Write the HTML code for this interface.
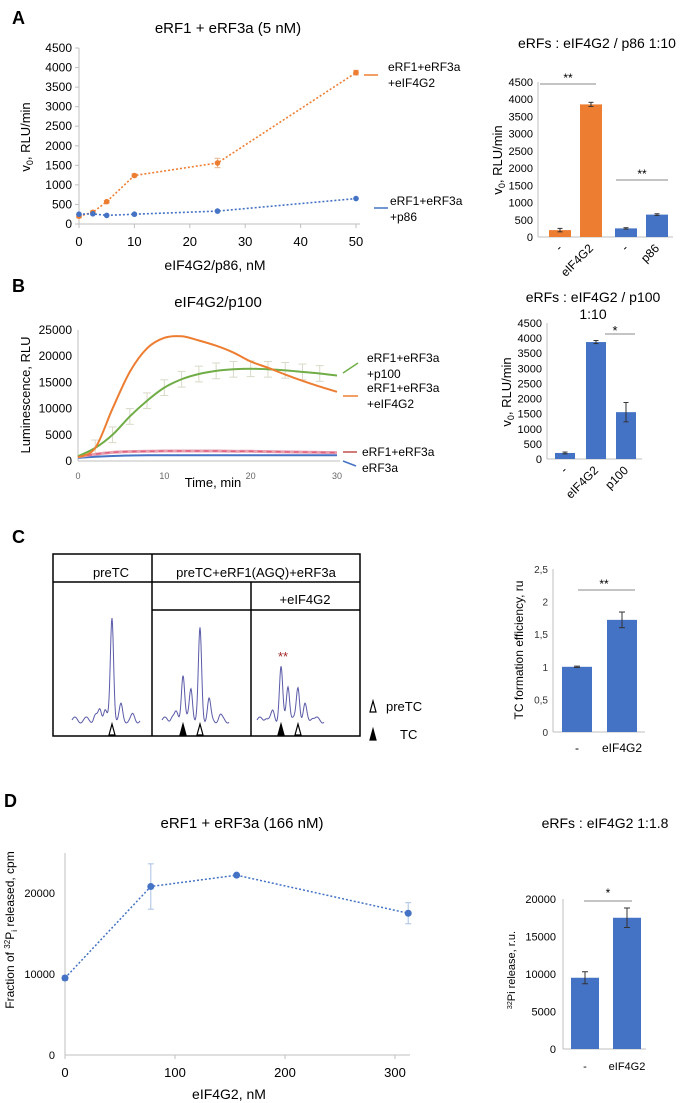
<!DOCTYPE html>
<html><head><meta charset="utf-8"><style>
html,body{margin:0;padding:0;background:#fff;}
svg{display:block;font-family:"Liberation Sans",Arial,sans-serif;}
</style></head><body>
<svg id="fig" width="684" height="1103" viewBox="0 0 684 1103" xmlns="http://www.w3.org/2000/svg"></svg>
<script>
// ---- Panel A left data
const aX = [0, 2.5, 5, 10, 25, 50];
const aOrange = [200, 300, 570, 1240, 1560, 3870];
const aOrangeErr = [40, 30, 30, 40, 120, 60];
const aBlue = [250, 260, 220, 250, 330, 650];
const aYTicks = [0,500,1000,1500,2000,2500,3000,3500,4000,4500];
const aXTicks = [0,10,20,30,40,50];
// ---- Panel A right
const arCats = ['-', 'eIF4G2', '-', 'p86'];
const arVals = [200, 3850, 250, 650];
const arErr = [50, 60, 20, 25];
// ---- Panel B left
const bT = [0,2,4,6,8,10,12,14,16,18,20,22,24,26,28,30];
const bOrange = [700,2500,10000,17000,21500,23500,23800,23000,22000,20700,19000,17800,16500,15300,14200,13200];
const bGreen = [900,2500,5000,8500,11500,14000,15600,16600,17200,17500,17600,17500,17300,17000,16700,16300];
const bPink = [800,1300,1650,1800,1850,1900,1900,1900,1900,1850,1850,1800,1750,1700,1650,1600];
const bBlue = [600,800,950,1050,1100,1100,1100,1100,1100,1100,1100,1100,1100,1100,1100,1100];
const bYTicks = [0,5000,10000,15000,20000,25000];
const bXTicks = [0,10,20,30];
// ---- Panel B right
const brCats = ['-', 'eIF4G2', 'p100'];
const brVals = [200, 3870, 1550];
const brErr = [30, 50, 320];
// ---- Panel C right
const crCats = ['-', 'eIF4G2'];
const crVals = [1.0, 1.72];
const crErr = [0.01, 0.12];
const crYTicks = [0,0.5,1,1.5,2,2.5];
// ---- Panel D left
const dX = [0, 78, 156, 312];
const dY = [9500, 20800, 22200, 17500];
const dErr = [300, 2800, 200, 1300];
const dYTicks = [0,10000,20000];
const dXTicks = [0,100,200,300];
// ---- Panel D right
const drCats = ['-', 'eIF4G2'];
const drVals = [9500, 17500];
const drErr = [800, 1300];
const drYTicks = [0,5000,10000,15000,20000];

const NS='http://www.w3.org/2000/svg';
const svg=document.getElementById('fig');
function el(tag, attrs, name, parent){
  const e=document.createElementNS(NS,tag);
  for(const k in attrs) e.setAttribute(k,attrs[k]);
  
  
  (parent||svg).appendChild(e);
  return e;
}
function txt(x,y,s,size,name,opt){
  opt=opt||{};
  const t=el('text',{x:x,y:y,'font-size':size,fill:opt.fill||'#000','text-anchor':opt.anchor||'middle','font-weight':opt.bold?'bold':'normal'},name);
  if(opt.rot!==undefined) t.setAttribute('transform','rotate('+opt.rot+' '+x+' '+y+')');
  t.textContent=s;
  return t;
}
function lin(d0,d1,r0,r1){return v=>r0+(v-d0)*(r1-r0)/(d1-d0);}
function line(x1,y1,x2,y2,stroke,w,name,dash){
  const a={x1:x1,y1:y1,x2:x2,y2:y2,stroke:stroke,'stroke-width':w};
  if(dash) a['stroke-dasharray']=dash;
  return el('line',a,name);
}
function errbar(x,y1,y2,col,name,cap){
  cap=cap||3;
  line(x,y1,x,y2,col,1,name);
  line(x-cap,y1,x+cap,y1,col,1,name+'-cap-top');
  line(x-cap,y2,x+cap,y2,col,1,name+'-cap-bottom');
}
function smooth(pts){
  let d='M'+pts[0][0]+','+pts[0][1];
  for(let i=0;i<pts.length-1;i++){
    const p0=pts[i-1]||pts[i],p1=pts[i],p2=pts[i+1],p3=pts[i+2]||p2;
    const c1x=p1[0]+(p2[0]-p0[0])/6,c1y=p1[1]+(p2[1]-p0[1])/6;
    const c2x=p2[0]-(p3[0]-p1[0])/6,c2y=p2[1]-(p3[1]-p1[1])/6;
    d+=' C'+c1x+','+c1y+' '+c2x+','+c2y+' '+p2[0]+','+p2[1];
  }
  return d;
}
const AX='#bfbfbf';
const OR='#ED7D31', BL='#4472C4', GR='#70AD47', PK='#E06080';

// ================= Panel A left
txt(12,24,'A',18,'panel-label-a',{bold:true,anchor:'start'});
txt(228,33,'eRF1 + eRF3a (5 nM)',15,'chart-a-title');
{
  const x=lin(0,50,79,356), y=lin(0,4500,224,48);
  line(79,48,79,224,AX,1,'a-y-axis');
  line(79,224,360,224,AX,1,'a-x-axis');
  aYTicks.forEach(v=>{txt(72,y(v)+4,String(v),12,'a-y-tick-label',{anchor:'end'});line(75,y(v),79,y(v),AX,1,'a-y-tick');});
  aXTicks.forEach(v=>{txt(x(v),246,String(v),13,'a-x-tick-label');line(x(v),224,x(v),228,AX,1,'a-x-tick');});
  const t=txt(30,137,'v',13,'a-y-axis-title',{rot:-90});
  t.innerHTML='v<tspan font-size="9" dy="3">0</tspan><tspan dy="-3">, RLU/min</tspan>';
  txt(215,270,'eIF4G2/p86, nM',14,'a-x-axis-title');
  let ptsO=aX.map((v,i)=>x(v)+','+y(aOrange[i])).join(' ');
  el('polyline',{points:ptsO,fill:'none',stroke:OR,'stroke-width':1.6,'stroke-dasharray':'2,2'},'a-orange-line');
  let ptsB=aX.map((v,i)=>x(v)+','+y(aBlue[i])).join(' ');
  el('polyline',{points:ptsB,fill:'none',stroke:BL,'stroke-width':1.6,'stroke-dasharray':'2,2'},'a-blue-line');
  aX.forEach((v,i)=>{
    errbar(x(v),y(aOrange[i]+aOrangeErr[i]),y(aOrange[i]-aOrangeErr[i]),'#e9b48e','a-orange-error');
    el('circle',{cx:x(v),cy:y(aOrange[i]),r:2.8,fill:OR},'a-orange-point');
    el('circle',{cx:x(v),cy:y(aBlue[i]),r:2.8,fill:BL},'a-blue-point');
  });
  line(364,75,378,75,OR,1.5,'a-legend-orange-swatch');
  txt(388,71,'eRF1+eRF3a',12,'a-legend-orange-text',{anchor:'start'});
  txt(388,87,'+eIF4G2',12,'a-legend-orange-text-2',{anchor:'start'});
  line(374,208,388,208,BL,1.5,'a-legend-blue-swatch');
  txt(390,205,'eRF1+eRF3a',12,'a-legend-blue-text',{anchor:'start'});
  txt(390,221,'+p86',12,'a-legend-blue-text-2',{anchor:'start'});
}
// ================= Panel A right
txt(597,48,'eRFs : eIF4G2 / p86 1:10',14,'chart-ar-title');
{
  const y=lin(0,4500,237,82); const cx=[560,591,626,657]; const cols=[OR,OR,BL,BL];
  line(538,82,538,237,AX,1,'ar-y-axis');
  line(538,237,673,237,AX,1,'ar-x-axis');
  aYTicks.forEach(v=>txt(533,y(v)+4,String(v),11,'ar-y-tick-label',{anchor:'end'}));
  const t=txt(502,160,'',13,'ar-y-axis-title',{rot:-90});
  t.innerHTML='v<tspan font-size="9" dy="3">0</tspan><tspan dy="-3">, RLU/min</tspan>';
  arVals.forEach((v,i)=>{
    el('rect',{x:cx[i]-11,y:y(v),width:22,height:237-y(v),fill:cols[i]},'ar-bar');
    errbar(cx[i],y(v+arErr[i]),y(v-arErr[i]),'#333','ar-error-bar',2.5);
    txt(cx[i]+3,249,arCats[i],12,'ar-x-label',{anchor:'end',rot:-45});
  });
  line(540,84,596,84,'#888',1,'ar-sig-line-1'); txt(568,82,'**',12,'ar-sig-stars-1');
  line(616,180,668,180,'#888',1,'ar-sig-line-2'); txt(642,178,'**',12,'ar-sig-stars-2');
}
// ================= Panel B left
txt(12,292,'B',18,'panel-label-b',{bold:true,anchor:'start'});
txt(218,307,'eIF4G2/p100',15,'chart-b-title');
{
  const x=lin(0,30,78,337), y=lin(0,25000,461,330);
  line(78,330,78,461,AX,1,'b-y-axis');
  line(78,461,340,461,AX,1,'b-x-axis');
  bYTicks.forEach(v=>txt(72,y(v)+4,String(v),12,'b-y-tick-label',{anchor:'end'}));
  bXTicks.forEach(v=>txt(x(v),479,String(v),9,'b-x-tick-label',{fill:'#666'}));
  txt(30,395,'Luminescence, RLU',13,'b-y-axis-title',{rot:-90});
  txt(213,487,'Time, min',13,'b-x-axis-title');
  bT.forEach((v,i)=>{ if(i>0&&i<15) errbar(x(v),y(bGreen[i]+1500),y(bGreen[i]-1500),'#d9d9c8','b-green-error',4); });
  el('path',{d:smooth(bT.map((v,i)=>[x(v),y(bBlue[i])])),fill:'none',stroke:BL,'stroke-width':2},'b-blue-curve');
  el('path',{d:smooth(bT.map((v,i)=>[x(v),y(bPink[i])])),fill:'none',stroke:'#e8a0b0','stroke-width':3},'b-pink-band');
  el('path',{d:smooth(bT.map((v,i)=>[x(v),y(bPink[i])])),fill:'none',stroke:PK,'stroke-width':1.5,'stroke-dasharray':'5,4'},'b-pink-curve');
  el('path',{d:smooth(bT.map((v,i)=>[x(v),y(bGreen[i])])),fill:'none',stroke:GR,'stroke-width':2},'b-green-curve');
  el('path',{d:smooth(bT.map((v,i)=>[x(v),y(bOrange[i])])),fill:'none',stroke:OR,'stroke-width':2},'b-orange-curve');
  line(343,373,358,363,GR,1.5,'b-legend-green-swatch');
  txt(367,362,'eRF1+eRF3a',12,'b-legend-green-text',{anchor:'start'});
  txt(367,378,'+p100',12,'b-legend-green-text-2',{anchor:'start'});
  line(343,396,358,396,OR,1.5,'b-legend-orange-swatch');
  txt(367,392,'eRF1+eRF3a',12,'b-legend-orange-text',{anchor:'start'});
  txt(367,408,'+eIF4G2',12,'b-legend-orange-text-2',{anchor:'start'});
  line(343,452,357,452,'#c0504d',1.5,'b-legend-pink-swatch');
  txt(362,456,'eRF1+eRF3a',12,'b-legend-pink-text',{anchor:'start'});
  line(343,461,356,466,BL,1.5,'b-legend-blue-swatch');
  txt(362,472,'eRF3a',12,'b-legend-blue-text',{anchor:'start'});
}
// ================= Panel B right
txt(593,302,'eRFs : eIF4G2 / p100',14,'chart-br-title');
txt(593,319,'1:10',14,'chart-br-title-2');
{
  const y=lin(0,4500,459,323); const cx=[565,596,626];
  line(547,323,547,459,AX,1,'br-y-axis');
  line(547,459,642,459,AX,1,'br-x-axis');
  aYTicks.forEach(v=>txt(542,y(v)+4,String(v),11,'br-y-tick-label',{anchor:'end'}));
  const t=txt(511,392,'',13,'br-y-axis-title',{rot:-90});
  t.innerHTML='v<tspan font-size="9" dy="3">0</tspan><tspan dy="-3">, RLU/min</tspan>';
  brVals.forEach((v,i)=>{
    el('rect',{x:cx[i]-10,y:y(v),width:20,height:459-y(v),fill:BL},'br-bar');
    errbar(cx[i],y(v+brErr[i]),y(v-brErr[i]),'#333','br-error-bar',2.5);
    txt(cx[i]+3,471,brCats[i],12,'br-x-label',{anchor:'end',rot:-45});
  });
  line(605,334,635,334,'#888',1,'br-sig-line'); txt(615,335,'*',13,'br-sig-star');
}
// ================= Panel C
txt(12,543,'C',18,'panel-label-c',{bold:true,anchor:'start'});
{
  el('rect',{x:53,y:554,width:307,height:182,fill:'none',stroke:'#000','stroke-width':1.5},'c-table-border');
  line(53,582,360,582,'#000',1.5,'c-header-line');
  line(152,554,152,736,'#000',1.5,'c-column-line-1');
  line(251,582,251,736,'#000',1.5,'c-column-line-2');
  line(152,610,360,610,'#000',1.5,'c-subheader-line');
  txt(111,577,'preTC',13,'c-header-pretc');
  txt(256,577,'preTC+eRF1(AGQ)+eRF3a',13,'c-header-release');
  txt(305,604,'+eIF4G2',13,'c-header-eif4g2');
  const base=720;
  const traces=[
    {x0:72,x1:140,peaks:[[95,5],[100,10],[105,12],[112,102],[121,14],[133,4]]},
    {x0:162,x1:229,peaks:[[172,5],[176,6],[183,47],[191,32],[200,90],[209,20],[220,4]]},
    {x0:257,x1:324,peaks:[[266,4],[273,8],[281,52],[288,36],[298,34],[305,14],[312,4]]}
  ];
  traces.forEach((tr,ti)=>{
    let d='';
    for(let px=tr.x0;px<=tr.x1;px+=0.5){
      let v=3*Math.sin((px-tr.x0)*0.55);
      tr.peaks.forEach(p=>{v+=p[1]*Math.exp(-Math.pow(px-p[0],2)/(2*1.6*1.6));});
      d+=(d?' L':'M')+px+','+(base-v).toFixed(1);
    }
    el('path',{d:d,fill:'none',stroke:'#5a5aa8','stroke-width':1},'c-trace-'+(ti+1));
  });
  function tri(x,y,filled,name){
    el('polygon',{points:(x-3)+','+(y+11)+' '+x+','+y+' '+(x+3)+','+(y+11),fill:filled?'#000':'#fff',stroke:'#000','stroke-width':1.2},name);
  }
  tri(112,724,false,'c-pretc-marker');
  tri(183,724,true,'c-tc-marker'); tri(200,724,false,'c-pretc-marker');
  tri(281,724,true,'c-tc-marker'); tri(298,724,false,'c-pretc-marker');
  txt(283,661,'**',13,'c-significance-stars',{fill:'#a52a2a'});
  tri(373,701,false,'c-legend-pretc-marker');
  txt(386,711,'preTC',13,'c-legend-pretc-text',{anchor:'start'});
  tri(373,729,true,'c-legend-tc-marker');
  txt(400,739,'TC',13,'c-legend-tc-text',{anchor:'start'});
}
// ================= Panel C right
{
  const y=lin(0,2.5,732,569); const cx=[577,622];
  line(553,569,553,732,AX,1,'cr-y-axis');
  line(553,732,645,732,AX,1,'cr-x-axis');
  crYTicks.forEach(v=>txt(548,y(v)+4,String(v).replace('.',','),10,'cr-y-tick-label',{anchor:'end',fill:'#333'}));
  txt(523,650,'TC formation efficiency, ru',12,'cr-y-axis-title',{rot:-90});
  crVals.forEach((v,i)=>{
    el('rect',{x:cx[i]-15,y:y(v),width:30,height:732-y(v),fill:BL},'cr-bar');
    errbar(cx[i],y(v+crErr[i]),y(v-crErr[i]),'#333','cr-error-bar',3);
    txt(cx[i],752,crCats[i],12,'cr-x-label');
  });
  line(578,590,635,590,'#888',1,'cr-sig-line'); txt(604,588,'**',12,'cr-sig-stars');
}
// ================= Panel D left
txt(4,807,'D',18,'panel-label-d',{bold:true,anchor:'start'});
txt(242,828,'eRF1 + eRF3a (166 nM)',15,'chart-d-title');
{
  const x=lin(0,300,65,395), y=lin(0,20000,1055,893);
  line(65,853,65,1055,AX,1,'d-y-axis');
  line(65,1055,410,1055,AX,1,'d-x-axis');
  dYTicks.forEach(v=>txt(55,y(v)+4,String(v),11,'d-y-tick-label',{anchor:'end'}));
  dXTicks.forEach(v=>{txt(x(v),1077,String(v),13,'d-x-tick-label');line(x(v),1055,x(v),1059,AX,1,'d-x-tick');});
  const t=txt(14,930,'',12,'d-y-axis-title',{rot:-90});
  t.innerHTML='Fraction  of <tspan font-size="8" dy="-4">32</tspan><tspan dy="4">P</tspan><tspan font-size="8" dy="3">i</tspan><tspan dy="-3"> released, cpm</tspan>';
  txt(229,1099,'eIF4G2, nM',14,'d-x-axis-title');
  dX.forEach((v,i)=>errbar(x(v),y(dY[i]+dErr[i]),y(dY[i]-dErr[i]),'#a9c0e4','d-error-bar',3));
  el('polyline',{points:dX.map((v,i)=>x(v)+','+y(dY[i])).join(' '),fill:'none',stroke:BL,'stroke-width':1.5,'stroke-dasharray':'2,2'},'d-line');
  dX.forEach((v,i)=>el('circle',{cx:x(v),cy:y(dY[i]),r:3.5,fill:BL},'d-point'));
}
// ================= Panel D right
txt(605,828,'eRFs : eIF4G2 1:1.8',14,'chart-dr-title');
{
  const y=lin(0,20000,1049,899); const cx=[585,627];
  line(563,899,563,1049,AX,1,'dr-y-axis');
  line(563,1049,646,1049,AX,1,'dr-x-axis');
  drYTicks.forEach(v=>txt(556,y(v)+4,String(v),11,'dr-y-tick-label',{anchor:'end'}));
  const t=txt(515,970,'',11,'dr-y-axis-title',{rot:-90});
  t.innerHTML='<tspan font-size="7" dy="-3">32</tspan><tspan dy="3">Pi release, r.u.</tspan>';
  drVals.forEach((v,i)=>{
    el('rect',{x:cx[i]-14,y:y(v),width:28,height:1049-y(v),fill:BL},'dr-bar');
    errbar(cx[i],y(v+drErr[i]),y(v-drErr[i]),'#333','dr-error-bar',3);
    txt(cx[i],1070,drCats[i],11,'dr-x-label');
  });
  line(584,901,632,901,'#888',1,'dr-sig-line'); txt(608,897,'*',12,'dr-sig-star');
}
</script>
</body></html>
